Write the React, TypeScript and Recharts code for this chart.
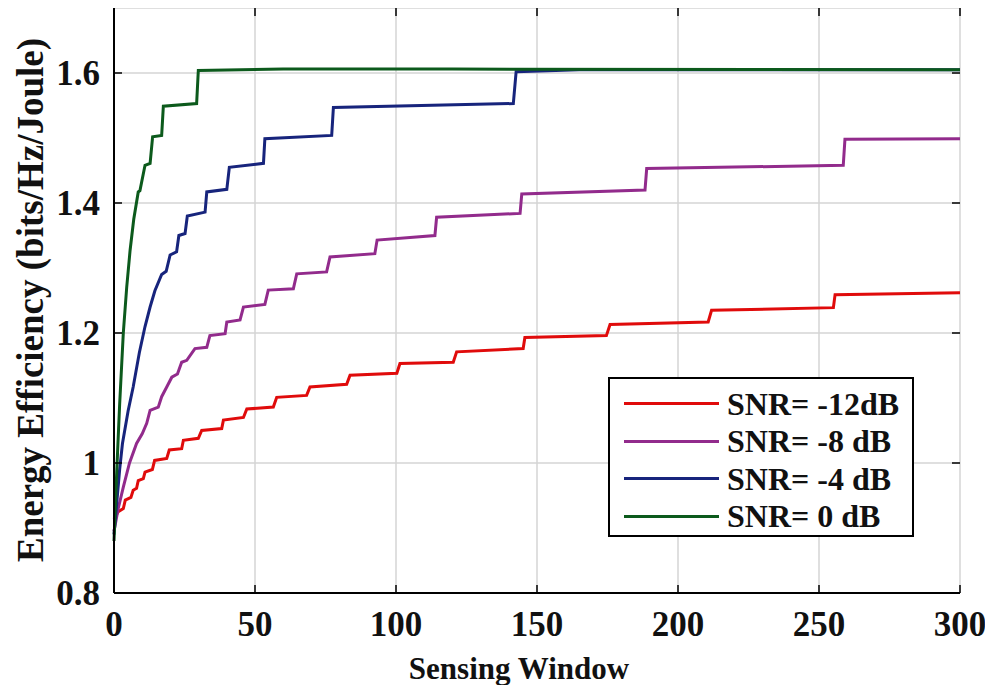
import React from "react";
import {
  LineChart,
  Line,
  XAxis,
  YAxis,
  CartesianGrid,
  Legend,
} from "recharts";

// [sensing window, energy efficiency] pairs; repeated x values give the step jumps
const snrMinus12: [number, number][] = [
  [0, 0.914], [1.5, 0.925], [3.3, 0.93], [4, 0.943], [6, 0.947], [6.8, 0.958],
  [8, 0.961], [8.6, 0.973], [10.4, 0.976], [11, 0.986], [13.6, 0.99], [14.4, 1.004],
  [18.7, 1.007], [19.6, 1.02], [24, 1.022], [24.6, 1.035], [29.9, 1.038], [31.1, 1.05],
  [38.2, 1.053], [38.8, 1.066], [45.9, 1.07], [47.1, 1.083], [56.5, 1.086], [57.7, 1.101],
  [68.3, 1.104], [69.5, 1.117], [82.5, 1.121], [83.7, 1.135], [100.3, 1.138], [101.4, 1.153],
  [120.3, 1.155], [121.5, 1.171], [145.1, 1.176], [145.7, 1.193], [174.6, 1.196], [175.9, 1.213],
  [210.7, 1.217], [211.9, 1.235], [255.1, 1.239], [255.7, 1.259], [300, 1.262],
];

const snrMinus8: [number, number][] = [
  [0, 0.895], [1.5, 0.93], [3.3, 0.963], [5.5, 1.0], [8, 1.03], [10, 1.045],
  [11.6, 1.061], [12.8, 1.081], [15.7, 1.086], [16.9, 1.102], [18.7, 1.117], [20.5, 1.132],
  [22.5, 1.137], [24, 1.155], [25.8, 1.158], [28.7, 1.176], [32.9, 1.178], [34, 1.196],
  [39.4, 1.199], [40, 1.217], [44.7, 1.22], [45.9, 1.24], [53.5, 1.244], [54.7, 1.266],
  [63.6, 1.268], [64.8, 1.291], [75.4, 1.294], [76.6, 1.317], [92.5, 1.322], [93.3, 1.343],
  [113.8, 1.35], [114.4, 1.378], [144, 1.384], [144.6, 1.414], [188.3, 1.42], [188.9, 1.453],
  [258.6, 1.458], [259.2, 1.498], [300, 1.499],
];

const snrMinus4: [number, number][] = [
  [0, 0.89], [1, 0.94], [2, 0.99], [3, 1.03], [5, 1.08], [6.8, 1.117],
  [9, 1.17], [11, 1.21], [12.8, 1.24], [14.5, 1.265], [16.9, 1.29], [18.5, 1.295],
  [19.9, 1.32], [22.2, 1.325], [23, 1.35], [25.2, 1.353], [26, 1.38], [32.3, 1.386],
  [32.9, 1.417], [40, 1.421], [40.9, 1.455], [53, 1.461], [53.5, 1.499], [77.2, 1.504],
  [77.8, 1.547], [141.6, 1.553], [142.6, 1.602], [165, 1.605], [300, 1.605],
];

const snr0: [number, number][] = [
  [0, 0.88], [1, 0.99], [2, 1.09], [3.3, 1.2], [4.5, 1.27], [5.7, 1.327],
  [7, 1.375], [8.6, 1.417], [9.2, 1.419], [11, 1.458], [12.8, 1.461], [13.7, 1.502],
  [16.9, 1.504], [17.5, 1.549], [29.3, 1.553], [29.9, 1.604], [60, 1.606], [120, 1.606],
  [300, 1.605],
];

const xTicks = [0, 50, 100, 150, 200, 250, 300];
const yTicks = [0.8, 1, 1.2, 1.4, 1.6];

const series = [
  { name: "SNR= -12dB", points: snrMinus12, color: "#e00b0b" },
  { name: "SNR= -8 dB", points: snrMinus8, color: "#922b8c" },
  { name: "SNR= -4 dB", points: snrMinus4, color: "#17247c" },
  { name: "SNR= 0 dB", points: snr0, color: "#0c5a1c" },
];

const toRows = (pts: [number, number][]) => pts.map(([x, y]) => ({ x, y }));

const FONT = "'Liberation Serif', 'Times New Roman', serif";
const TICK_LEN = 8;
// plot frame, used for the inward ticks on the top and right edges
const PLOT_TOP = 8;
const PLOT_RIGHT = 960;

// bottom axis: label under the axis plus an inward tick mark
const BottomTick = (props: any) => {
  const { x, y, payload } = props;
  const axisY = y - 14;
  return (
    <g>
      <line x1={x} x2={x} y1={axisY} y2={axisY - TICK_LEN} stroke="#000" strokeWidth={1.5} />
      <line x1={x} x2={x} y1={PLOT_TOP} y2={PLOT_TOP + TICK_LEN} stroke="#000" strokeWidth={1.5} />
      <text x={x} y={y} dy={29} textAnchor="middle" fontFamily={FONT} fontWeight="bold" fontSize={35} fill="#111">
        {payload.value}
      </text>
    </g>
  );
};

const LeftTick = (props: any) => {
  const { x, y, payload } = props;
  const axisX = x + 14;
  return (
    <g>
      <line x1={axisX} x2={axisX + TICK_LEN} y1={y} y2={y} stroke="#000" strokeWidth={1.5} />
      <line x1={PLOT_RIGHT} x2={PLOT_RIGHT - TICK_LEN} y1={y} y2={y} stroke="#000" strokeWidth={1.5} />
      <text x={x} y={y} dy={12} textAnchor="end" fontFamily={FONT} fontWeight="bold" fontSize={35} fill="#111">
        {payload.value === 1 ? "1" : payload.value.toFixed(1)}
      </text>
    </g>
  );
};

const YTitle = () => (
  <text
    x={30}
    y={300}
    transform="rotate(-90, 30, 300)"
    textAnchor="middle"
    dominantBaseline="central"
    fontFamily={FONT}
    fontWeight="bold"
    fontSize={37}
    fill="#111"
  >
    Energy Efficiency (bits/Hz/Joule)
  </text>
);

const XTitle = () => (
  <text x={519} y={679} textAnchor="middle" fontFamily={FONT} fontWeight="bold" fontSize={31} fill="#111">
    Sensing Window
  </text>
);

const LegendBox = () => (
  <div
    style={{
      width: 306,
      height: 160,
      border: "2px solid #000",
      background: "#fff",
      boxSizing: "border-box",
      padding: "6px 0 0 14px",
    }}
  >
    {series.map((s) => (
      <div key={s.name} style={{ display: "flex", alignItems: "center", height: 37.5 }}>
        <div style={{ width: 95, height: 3, background: s.color, marginRight: 8 }} />
        <span style={{ fontFamily: FONT, fontWeight: "bold", fontSize: 32, color: "#111", lineHeight: 1 }}>
          {s.name}
        </span>
      </div>
    ))}
  </div>
);

export default function App() {
  return (
    <div style={{ margin: -8, width: 993, height: 693, background: "#fff" }}>
      <LineChart width={993} height={693} margin={{ top: 8, right: 33, bottom: 0, left: 0 }}>
        <CartesianGrid stroke="#d4d4d4" strokeWidth={1.5} />
        <XAxis
          dataKey="x"
          type="number"
          domain={[0, 300]}
          ticks={xTicks}
          height={100}
          tickSize={0}
          tickMargin={14}
          tick={<BottomTick />}
          axisLine={{ stroke: "#000", strokeWidth: 2 }}
          label={<XTitle />}
        />
        <XAxis
          xAxisId="top"
          orientation="top"
          type="number"
          domain={[0, 300]}
          height={0}
          tick={false}
          tickLine={false}
          axisLine={{ stroke: "#000", strokeWidth: 2 }}
        />
        <YAxis
          type="number"
          domain={[0.8, 1.7]}
          ticks={yTicks}
          width={114}
          tickSize={0}
          tickMargin={14}
          tick={<LeftTick />}
          axisLine={{ stroke: "#000", strokeWidth: 2 }}
          label={<YTitle />}
        />
        <YAxis
          yAxisId="right"
          orientation="right"
          type="number"
          domain={[0.8, 1.7]}
          width={0}
          tick={false}
          tickLine={false}
          axisLine={{ stroke: "#000", strokeWidth: 2 }}
        />
        {series.map((s) => (
          <Line
            key={s.name}
            data={toRows(s.points)}
            dataKey="y"
            name={s.name}
            type="linear"
            stroke={s.color}
            strokeWidth={3}
            dot={false}
            isAnimationActive={false}
          />
        ))}
        <Legend
          layout="vertical"
          align="center"
          verticalAlign="middle"
          content={<LegendBox />}
          wrapperStyle={{ left: 608, top: 377, width: 306 }}
        />
      </LineChart>
    </div>
  );
}
